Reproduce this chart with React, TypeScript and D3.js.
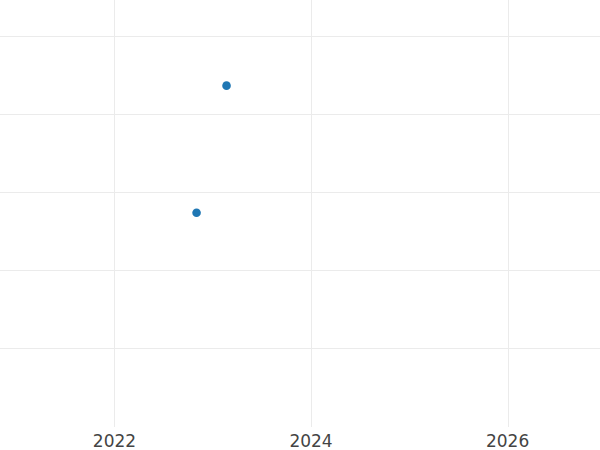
import React from "react";
import * as d3 from "d3";

const xDates: number[] = [2023.14, 2022.835];
const yValues: number[] = [4.37, 2.74];
const xTickValues: number[] = [2022, 2024, 2026];
const yTickValues: number[] = [1, 2, 3, 4, 5];

const W = 600;
const H = 450;
const plotBottom = 427;

export default function App() {
  const x = d3.scaleLinear().domain([2020.835, 2026.94]).range([0, W]);
  const y = d3.scaleLinear().domain([1, 5]).range([348.5, 36.5]);

  return (
    <svg
      width={W}
      height={H}
      style={{ position: "absolute", left: 0, top: 0, background: "#fff" }}
    >
      <rect x={0} y={0} width={W} height={plotBottom} fill="#fff" />
      {xTickValues.map((t) => (
        <line
          key={"gx" + t}
          x1={Math.round(x(t)) + 0.5}
          x2={Math.round(x(t)) + 0.5}
          y1={0}
          y2={plotBottom}
          stroke="#ebebeb"
          strokeWidth={1}
        />
      ))}
      {yTickValues.map((t) => (
        <line
          key={"gy" + t}
          x1={0}
          x2={W}
          y1={y(t)}
          y2={y(t)}
          stroke="#ebebeb"
          strokeWidth={1}
        />
      ))}
      {xDates.map((d, i) => (
        <circle key={"p" + i} cx={x(d)} cy={y(yValues[i])} r={4.3} fill="#1f77b4" />
      ))}
      {xTickValues.map((t) => (
        <text
          key={"tx" + t}
          x={x(t)}
          y={447}
          textAnchor="middle"
          fontFamily="DejaVu Sans"
          fontSize={17}
          fill="#444"
        >
          {t}
        </text>
      ))}
    </svg>
  );
}
